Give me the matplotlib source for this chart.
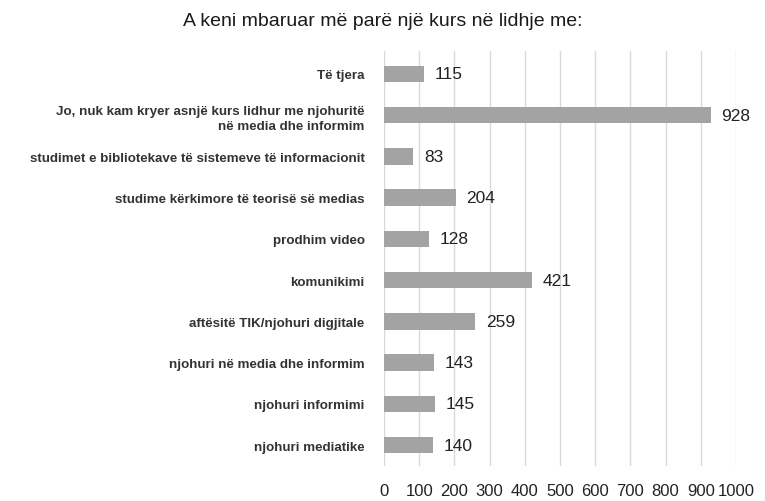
import matplotlib
matplotlib.use('Agg')
import matplotlib.pyplot as plt

categories = [
    "Të tjera",
    "Jo, nuk kam kryer asnjë kurs lidhur me njohuritë\nnë media dhe informim",
    "studimet e bibliotekave të sistemeve të informacionit",
    "studime kërkimore të teorisë së medias",
    "prodhim video",
    "komunikimi",
    "aftësitë TIK/njohuri digjitale",
    "njohuri në media dhe informim",
    "njohuri informimi",
    "njohuri mediatike",
]
values = [115, 928, 83, 204, 128, 421, 259, 143, 145, 140]
xticks = list(range(0, 1001, 100))

plt.rcParams['font.family'] = ['Liberation Sans', 'DejaVu Sans']

fig = plt.figure(figsize=(7.65, 5.02), dpi=100)
ax = fig.add_axes([0.502, 0.07, 0.46, 0.826])

ypos = list(range(len(categories)))[::-1]
ax.barh(ypos, values, height=0.4, color='#a3a3a3', zorder=3)
for y, v in zip(ypos, values):
    ax.text(v + 30, y, str(v), va='center', ha='left', fontsize=12.5, color='#222222')

ax.set_xlim(0, 1000)
ax.set_ylim(-0.5, 9.55)
ax.set_xticks(xticks)
ax.set_xticklabels([str(t) for t in xticks], fontsize=12, color='#222222')
ax.set_yticks(ypos)
ax.set_yticklabels(categories, fontsize=9.6, fontweight='bold', color='#333333',
                   linespacing=1.35)
ax.tick_params(axis='x', length=0, pad=12)
ax.tick_params(axis='y', length=0, pad=14)
ax.grid(axis='x', color='#d9d9d9', linewidth=1, zorder=0)
for s in ax.spines.values():
    s.set_visible(False)

fig.text(0.5, 0.958, "A keni mbaruar më parë një kurs në lidhje me:",
         ha='center', va='center', fontsize=14, color='#1a1a1a')

fig.savefig('out.png', dpi=100, facecolor='white')
